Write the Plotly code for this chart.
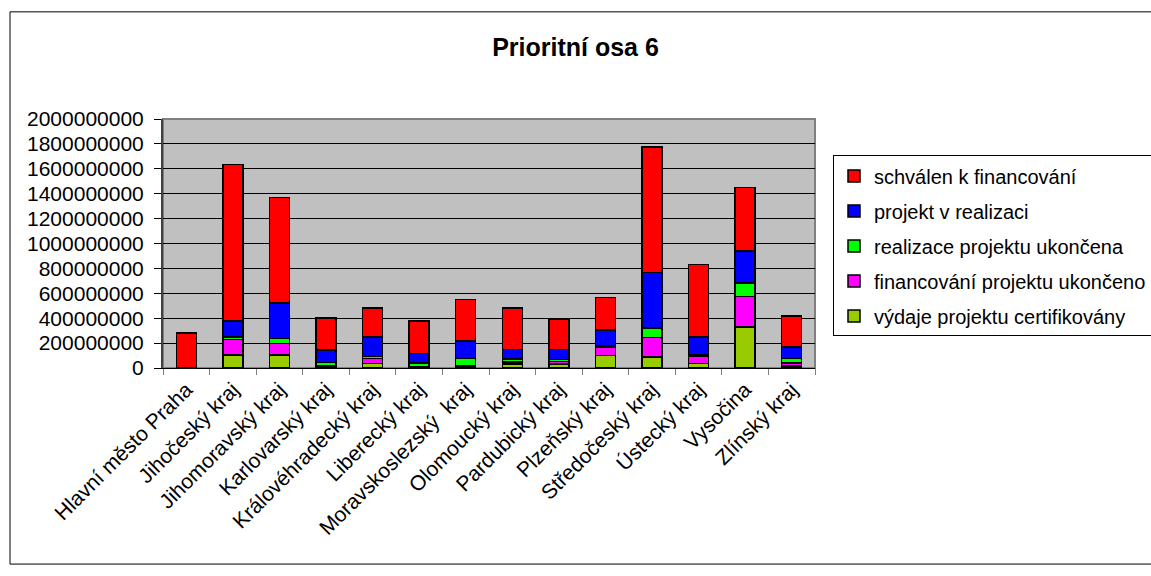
import plotly.graph_objects as go

categories = ["Hlavní město Praha", "Jihočeský kraj", "Jihomoravský kraj", "Karlovarský kraj",
              "Královéhradecký kraj", "Liberecký kraj", "Moravskoslezský  kraj", "Olomoucký kraj",
              "Pardubický kraj", "Plzeňský kraj", "Středočeský kraj", "Ústecký kraj", "Vysočina",
              "Zlínský kraj"]

vydaje_certifikovany = [0, 104e6, 104e6, 10e6, 35e6, 6e6, 18e6, 32e6, 32e6, 101e6, 88e6, 35e6, 331e6, 18e6]
financovani_ukonceno = [0, 123e6, 91e6, 8e6, 40e6, 4e6, 4e6, 15e6, 21e6, 67e6, 158e6, 56e6, 243e6, 24e6]
realizace_ukoncena = [0, 24e6, 43e6, 25e6, 16e6, 30e6, 53e6, 25e6, 16e6, 8e6, 74e6, 13e6, 109e6, 33e6]
projekt_v_realizaci = [0, 125e6, 285e6, 101e6, 157e6, 77e6, 141e6, 75e6, 78e6, 131e6, 446e6, 144e6, 257e6, 93e6]
schvalen_k_financovani = [280e6, 1260e6, 846e6, 259e6, 235e6, 259e6, 336e6, 336e6, 243e6, 259e6, 1008e6, 585e6, 509e6, 251e6]

series = [
    ("výdaje projektu certifikovány", vydaje_certifikovany, "#99CC00"),
    ("financování projektu ukončeno", financovani_ukonceno, "#FF00FF"),
    ("realizace projektu ukončena", realizace_ukoncena, "#00FF00"),
    ("projekt v realizaci", projekt_v_realizaci, "#0000FF"),
    ("schválen k financování", schvalen_k_financovani, "#FF0000"),
]

FONT = "Liberation Sans, Arial, sans-serif"

fig = go.Figure()
for i, (name, vals, color) in enumerate(series):
    fig.add_trace(go.Bar(
        x=categories, y=vals, name=name, legendgroup=name,
        legendrank=len(series) - i,
        marker=dict(color=color, line=dict(color="#000000", width=1.5)),
    ))

# plot area in pixels: x 163..815, y 118.5..368.3
L, R, T, B = 163, 815, 118.5, 368.3
W, H = 1151, 576

def px_x(p):
    return (p - L) / (R - L)

def px_y(p):
    return (B - p) / (B - T)

fig.update_layout(
    width=W, height=H,
    margin=dict(l=L, r=W - R, t=T, b=H - B, pad=0, autoexpand=False),
    barmode="stack",
    bargap=0.57,
    paper_bgcolor="#FFFFFF",
    plot_bgcolor="#C0C0C0",
    font=dict(family=FONT, size=20, color="#000000"),
    title=dict(text="<b>Prioritní osa 6</b>", x=0.5, xanchor="center",
               y=1 - 47 / H, yanchor="middle",
               font=dict(family=FONT, size=25, color="#000000")),
    legend=dict(
        traceorder="grouped",
        tracegroupgap=6,
        x=px_x(833), xanchor="left",
        y=px_y(155), yanchor="top",
        bgcolor="#FFFFFF", bordercolor="#000000", borderwidth=1,
        font=dict(family=FONT, size=20, color="#000000"),
        itemwidth=30,
    ),
    showlegend=True,
    xaxis=dict(
        type="category",
        tickangle=-45,
        tickson="boundaries",
        ticks="outside", ticklen=6, tickcolor="#808080", tickwidth=1,
        showline=True, linecolor="#000000", linewidth=1,
        showgrid=False,
        tickfont=dict(family=FONT, size=21, color="#000000"),
    ),
    yaxis=dict(
        range=[0, 2e9], dtick=2e8, tick0=0,
        tickformat=".0f",
        ticks="outside", ticklen=7, tickcolor="#000000",
        ticklabelstandoff=6,
        showline=True, linecolor="#404040", linewidth=2,
        showgrid=True, gridcolor="#000000", gridwidth=1,
        zeroline=False,
        tickfont=dict(family=FONT, size=21, color="#000000"),
    ),
    shapes=[
        dict(type="rect", xref="paper", yref="paper",
             x0=0, x1=1, y0=0, y1=1,
             line=dict(color="#808080", width=2), layer="below"),
        dict(type="rect", xref="paper", yref="paper",
             x0=px_x(10), x1=px_x(1160), y0=px_y(565), y1=px_y(11),
             line=dict(color="#000000", width=1), layer="below"),
    ],
)

fig.write_html(
    "out.html",
    config={"displayModeBar": False},
    post_script="document.body.style.margin='0';document.body.style.overflow='hidden';",
)
